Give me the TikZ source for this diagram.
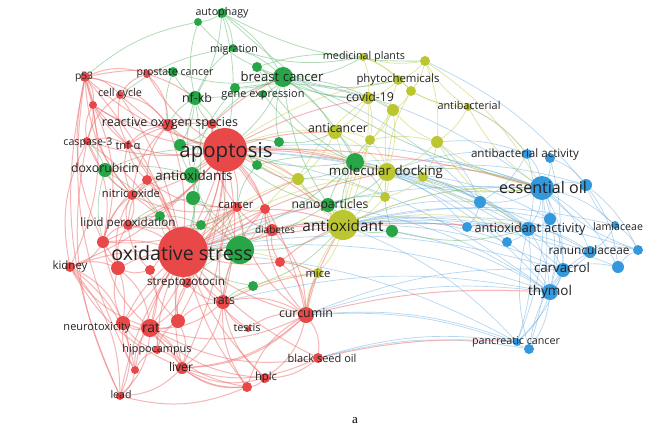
\documentclass[tikz,border=0pt]{standalone}
\usepackage{fontspec}
\setmainfont{Open Sans}
\newfontfamily\capfont{Liberation Serif}
\usepackage{graphicx}
\pgfdeclarelayer{edges}
\pgfsetlayers{edges,main}
\definecolor{cR}{RGB}{232,72,72}
\definecolor{cG}{RGB}{40,165,70}
\definecolor{cY}{RGB}{188,198,48}
\definecolor{cB}{RGB}{52,152,220}
\definecolor{eR}{RGB}{238,110,110}
\definecolor{eG}{RGB}{100,185,115}
\definecolor{eY}{RGB}{200,208,90}
\definecolor{eB}{RGB}{110,175,225}
\definecolor{txt}{RGB}{35,35,35}
\tikzset{
  kw/.style={circle, inner sep=0pt, minimum size=#1},
  nR/.style={kw=#1, fill=cR},
  nG/.style={kw=#1, fill=cG},
  nY/.style={kw=#1, fill=cY},
  nB/.style={kw=#1, fill=cB},
  lab/.style={inner sep=0pt, text=txt},
  eRs/.style={draw=eR, opacity=.5, line width=1pt},
  eGs/.style={draw=eG, opacity=.5, line width=.8pt},
  eYs/.style={draw=eY, opacity=.55, line width=.75pt},
  eBs/.style={draw=eB, opacity=.5, line width=.7pt},
}
\newcommand\lbl[4]{\node[lab] (#1) at (#2) {\resizebox{#3pt}{!}{#4}};}
\begin{document}
\begin{tikzpicture}[x=1pt,y=-1pt]
\useasboundingbox (0,0) rectangle (670,440);
% red nodes
\node[nR=44pt] (r1) at (225,150) {};
\node[nR=50pt] (r2) at (183,252) {};
\node[nR=10pt] (r3) at (85,77) {};
\node[nR=8pt] (r4) at (147,74) {};
\node[nR=8pt] (r5) at (120,95) {};
\node[nR=8pt] (r6) at (93,105) {};
\node[nR=12pt] (r7) at (168,125) {};
\node[nR=10pt] (r8) at (212,124) {};
\node[nR=8pt] (r9) at (87,141) {};
\node[nR=8pt] (r10) at (128,145) {};
\node[nR=10pt] (r11) at (147,180) {};
\node[nR=10pt] (r12) at (132,195) {};
\node[nR=10pt] (r13) at (237,207) {};
\node[nR=10pt] (r14) at (265,209) {};
\node[nR=10pt] (r15) at (128,225) {};
\node[nR=12pt] (r16) at (103,242) {};
\node[nR=10pt] (r17) at (70,267) {};
\node[nR=14pt] (r18) at (118,268) {};
\node[nR=10pt] (r19) at (150,270) {};
\node[nR=10pt] (r20) at (187,283) {};
\node[nR=14pt] (r21) at (223,302) {};
\node[nR=14pt] (r22) at (123,323) {};
\node[nR=18pt] (r23) at (150,328) {};
\node[nR=14pt] (r24) at (178,321) {};
\node[nR=8pt] (r25) at (157,350) {};
\node[nR=8pt] (r26) at (135,370) {};
\node[nR=12pt] (r27) at (182,368) {};
\node[nR=8pt] (r28) at (120,396) {};
\node[nR=10pt] (r29) at (247,387) {};
\node[nR=10pt] (r30) at (265,378) {};
\node[nR=12pt] (r31) at (272,230) {};
\node[nR=10pt] (r32) at (280,262) {};
\node[nR=16pt] (r33) at (306,315) {};
\node[nR=10pt] (r34) at (318,358) {};
\node[nR=6pt] (r35) at (248,329) {};
% green nodes
\node[nG=10pt] (g1) at (222,13) {};
\node[nG=8pt] (g2) at (198,22) {};
\node[nG=8pt] (g3) at (233,48) {};
\node[nG=10pt] (g4) at (257,67) {};
\node[nG=10pt] (g5) at (173,72) {};
\node[nG=20pt] (g6) at (283,77) {};
\node[nG=10pt] (g7) at (235,88) {};
\node[nG=14pt] (g8) at (195,98) {};
\node[nG=8pt] (g9) at (263,94) {};
\node[nG=12pt] (g10) at (180,145) {};
\node[nG=10pt] (g11) at (279,142) {};
\node[nG=10pt] (g12) at (257,165) {};
\node[nG=14pt] (g13) at (105,170) {};
\node[nG=16pt] (g14) at (192,175) {};
\node[nG=14pt] (g15) at (193,198) {};
\node[nG=10pt] (g16) at (160,216) {};
\node[nG=10pt] (g17) at (201,225) {};
\node[nG=28pt] (g18) at (240,250) {};
\node[nG=10pt] (g19) at (253,286) {};
\node[nG=18pt] (g20) at (355,162) {};
\node[nG=14pt] (g21) at (328,205) {};
\node[nG=12pt] (g22) at (392,231) {};
% yellow nodes
\node[nY=8pt] (y1) at (363,57) {};
\node[nY=10pt] (y2) at (425,61) {};
\node[nY=10pt] (y3) at (398,80) {};
\node[nY=10pt] (y4) at (411,91) {};
\node[nY=12pt] (y5) at (368,98) {};
\node[nY=12pt] (y6) at (393,110) {};
\node[nY=8pt] (y7) at (468,107) {};
\node[nY=14pt] (y8) at (335,132) {};
\node[nY=10pt] (y9) at (370,140) {};
\node[nY=12pt] (y10) at (437,142) {};
\node[nY=18pt] (y11) at (387,172) {};
\node[nY=12pt] (y12) at (298,179) {};
\node[nY=10pt] (y13) at (423,177) {};
\node[nY=10pt] (y14) at (385,197) {};
\node[nY=30pt] (y15) at (343,225) {};
\node[nY=10pt] (y16) at (318,273) {};
% blue nodes
\node[nB=10pt] (b1) at (527,154) {};
\node[nB=10pt] (b2) at (550,158) {};
\node[nB=24pt] (b3) at (542,188) {};
\node[nB=12pt] (b4) at (586,185) {};
\node[nB=12pt] (b5) at (480,202) {};
\node[nB=12pt] (b6) at (550,219) {};
\node[nB=10pt] (b7) at (467,227) {};
\node[nB=14pt] (b8) at (528,229) {};
\node[nB=8pt] (b9) at (615,225) {};
\node[nB=10pt] (b10) at (507,242) {};
\node[nB=12pt] (b11) at (590,252) {};
\node[nB=10pt] (b12) at (638,250) {};
\node[nB=14pt] (b13) at (563,270) {};
\node[nB=12pt] (b14) at (618,267) {};
\node[nB=16pt] (b15) at (550,292) {};
\node[nB=8pt] (b16) at (517,342) {};
\node[nB=10pt] (b17) at (529,349) {};
% edges
\begin{pgfonlayer}{edges}
\fill[white] (0,0) rectangle (670,440);
\foreach \a/\b in {b3/y15,b8/r1,b15/r2,b16/r34,b16/y15,b15/r33,b3/r1,b12/b4,b3/b12,b16/b3,b15/y15,b13/y15,b8/y11,b3/y11,b5/y11,b7/y15,b1/y11,b3/g20,b8/r2,b13/r2,b3/r2,b15/r1,b10/y15,b6/y15,b11/r1,b17/r33,b16/r2,b1/y10,b5/y10,b5/y15,b7/y11,b10/y11,b6/y11,b4/y11,b13/y11,b15/y11,b15/g21,b8/g20,b3/g6,b5/g6,b1/y7,b9/y15,b11/y15,b14/y15,b15/r21,b16/r33,b17/r34,b13/r33,b8/y13,b4/y2,b12/y15,b16/b8,b17/b3,b16/b13}
  \draw[eBs] (\a) to[bend right=12] (\b);
\foreach \a/\b in {b1/b3,b2/b3,b3/b4,b3/b5,b3/b6,b3/b8,b3/b13,b3/b15,b3/b11,b3/b9,b5/b8,b7/b8,b8/b10,b8/b13,b8/b15,b9/b12,b9/b11,b11/b12,b11/b13,b13/b14,b13/b15,b14/b12,b15/b16,b15/b17,b17/b13,b4/b14,b1/b8,b2/b15,b6/b8,b3/b14,b8/b11,b15/b11,b17/b8,b5/b7,b1/b5,b2/b4,b6/b13,b10/b15,b9/b4}
  \draw[eBs] (\a) to[bend left=14] (\b);
\foreach \a/\b in {y1/y3,y1/y5,y2/y3,y3/y5,y3/y4,y5/y6,y5/y8,y6/y11,y7/y10,y7/b1,y8/y11,y9/y11,y10/y11,y11/y15,y11/y13,y14/y15,y15/y16,y15/y12,y2/b3,y11/b3,y15/b3,y15/b8,y5/y15,y8/y15,y2/y4,y2/y10,y4/y6,y6/y9,y9/y10,y10/y13,y12/y14,y13/y14,y8/y9,y8/y12,y1/y4,y7/y4,y5/y9}
  \draw[eYs] (\a) to[bend left=12] (\b);
\foreach \a/\b in {y4/y11,y6/y15,y3/y11,y7/b3,y10/b3,y13/b5,y1/y2,y5/y12,y16/r2,y16/r33,y15/r1,y8/r1,y11/r1,y11/r2,y12/r1,y12/r2,y15/r31,y3/r1,y2/y7,y4/y7,y9/y15,y14/y11,y10/b8,y13/b3,y6/y10,y16/r21,y15/r33,y12/r14}
  \draw[eYs] (\a) to[bend right=12] (\b);
\foreach \a/\b in {g1/g2,g1/g3,g1/g6,g1/g8,g1/r1,g3/g6,g6/g4,g6/g7,g6/g9,g6/g8,g8/g5,g8/g10,g6/g20,g6/y8,g20/y11,g21/y15,g21/g20,g18/g14,g13/g14,g14/g15,g16/g17,g22/y15,g19/r2,g11/g6,g12/g20,g6/r1,g8/r1,g8/r2,g10/r1,g13/r2,g13/r1,g14/r2,g14/r1,g15/r2,g18/r1,g18/r2,g20/r1,g20/r2,g21/r1,g21/r2,g15/g18,g17/g18,g14/g10,g20/y9,g20/y14,g20/y12,g21/y12,g21/y14,g22/y11,g6/y6,g4/y1,g7/y5}
  \draw[eGs] (\a) to[bend left=12] (\b);
\foreach \a/\b in {g6/y15,g6/y5,g2/g8,g3/g8,g4/g20,g7/g14,g9/g20,g5/g6,g1/y2,g1/b3,g3/y1,g6/y1,g6/y3,g8/g14,g20/y15,g20/b3,g22/b8,g17/r2,g16/r2,g12/r1,g11/r1,g20/y8,g21/y11,g19/y15,g18/y15,g2/g6,g4/y5,g10/r7,g10/r8,g13/r9,g13/r12,g13/r16,g14/r11,g14/r12,g15/r15,g15/r13,g16/r15,g17/r13,g18/r13,g18/r14,g18/r21,g18/r20,g19/r21,g8/r7,g8/r8,g5/r4,g5/r7,g6/r8,g12/r13,g11/y8,g12/y12,g2/r3,g3/r5}
  \draw[eGs] (\a) to[bend right=14] (\b);
\foreach \a/\b in {r1/r2,r1/r3,r1/r5,r1/r7,r1/r8,r1/r9,r1/r10,r1/r11,r1/r12,r1/r13,r1/r14,r1/r21,r1/r23,r1/r33,r1/r31,r1/r20,r1/r4,r1/r6,r1/r15,r1/r16,r1/r17,r1/r22,r1/r27,r1/r24}
  \draw[eRs] (\a) to[bend left=12] (\b);
\foreach \a/\b in {r2/r3,r2/r6,r2/r7,r2/r9,r2/r12,r2/r15,r2/r16,r2/r17,r2/r18,r2/r19,r2/r20,r2/r21,r2/r22,r2/r23,r2/r24,r2/r25,r2/r26,r2/r27,r2/r28,r2/r29,r2/r30,r2/r31,r2/r32,r2/r33,r2/r34,r2/r13,r2/r14,r2/r10,r2/r5,r2/r11,r2/r35}
  \draw[eRs] (\a) to[bend right=10] (\b);
\foreach \a/\b in {r23/r22,r23/r25,r23/r27,r23/r28,r22/r28,r27/r28,r17/r18,r17/r28,r3/r5,r3/r6,r5/r7,r9/r10,r15/r12,r16/r17,r21/r23,r24/r27,r33/r34,r33/r30,r30/r27,r29/r27,r26/r23,r17/r22,r3/r9,r3/r17,r6/r16,r21/r33,r33/r23,r33/r27,r29/r23,r34/r27,r18/r23,r24/r23,r19/r23,r20/r23,r12/r15,r11/r12,r7/r8,r4/r7,r3/r7,r22/r27,r25/r27,r26/r28,r21/r27,r33/r14,r33/r13,r31/r33,r32/r33,r16/r22,r9/r16,r17/r26,r35/r33,r35/r21,r3/r4,r29/r33}
  \draw[eRs] (\a) to[bend left=20] (\b);
\foreach \a/\b in {r3/r10,r3/r12,r3/r16,r5/r9,r5/r10,r6/r9,r6/r12,r7/r10,r7/r11,r7/r12,r8/r13,r9/r17,r9/r12,r10/r11,r10/r12,r11/r15,r11/r16,r12/r16,r12/r18,r13/r14,r13/r21,r13/r31,r14/r31,r15/r16,r15/r18,r15/r19,r16/r18,r16/r23,r17/r23,r17/r27,r18/r22,r18/r19,r19/r24,r20/r21,r20/r24,r21/r24,r21/r29,r21/r30,r22/r25,r22/r26,r23/r30,r23/r34,r24/r25,r25/r26,r27/r29,r27/r33,r28/r29,r29/r30,r30/r34,r31/r32,r14/r21,r13/r20,r8/r10,r4/r5,r6/r7,r3/r28,r9/r28,r3/r26,r11/r13,r12/r13,r15/r13,r16/r13}
  \draw[eRs] (\a) to[bend right=18] (\b);
\foreach \a/\b in {r1/y15,r1/y11,r1/y8,r1/g20,r2/y15,r2/y11,r33/y15,r33/y16,r1/b3,r2/b8,r33/b15,r34/b16,r21/y16,r1/y5,r1/y12,r2/y12,r2/g21,r3/g5,r4/g8,r8/g6,r14/y15,r31/y15,r32/y15,r32/y16}
  \draw[eRs] (\a) to[bend left=8] (\b);
\end{pgfonlayer}
% labels
\lbl{la1}{222,13}{53}{autophagy}
\lbl{la2}{234,50}{48}{migration}
\lbl{la3}{84,77}{18}{p53}
\lbl{la4}{175,73}{77}{prostate cancer}
\lbl{la5}{120,94}{44}{cell cycle}
\lbl{la6}{197,98}{30}{nf-kb}
\lbl{la7}{263,95}{83}{gene expression}
\lbl{la8}{282,77}{83}{breast cancer}
\lbl{la9}{364,57}{82}{medicinal plants}
\lbl{la10}{398,80}{83}{phytochemicals}
\lbl{la11}{370,97}{48}{covid-19}
\lbl{la12}{469,105}{63}{antibacterial}
\lbl{la13}{170,123}{136}{reactive oxygen species}
\lbl{la14}{338,128}{60}{anticancer}
\lbl{la15}{88,143}{49}{caspase-3}
\lbl{la16}{128,145}{25}{tnf-α}
\lbl{la17}{226,152}{93}{apoptosis}
\lbl{la18}{105,168}{68}{doxorubicin}
\lbl{la19}{194,175}{77}{antioxidants}
\lbl{la20}{386,172}{114}{molecular docking}
\lbl{la21}{525,154}{108}{antibacterial activity}
\lbl{la22}{543,187}{88}{essential oil}
\lbl{la23}{131,193}{58}{nitric oxide}
\lbl{la24}{236,205}{35}{cancer}
\lbl{la25}{330,205}{77}{nanoparticles}
\lbl{la26}{128,223}{95}{lipid peroxidation}
\lbl{la27}{275,230}{40}{diabetes}
\lbl{la28}{343,226}{81}{antioxidant}
\lbl{la29}{530,229}{111}{antioxidant activity}
\lbl{la30}{618,227}{50}{lamiaceae}
\lbl{la31}{589,250}{81}{ranunculaceae}
\lbl{la32}{182,253}{141}{oxidative stress}
\lbl{la33}{70,267}{35}{kidney}
\lbl{la34}{562,268}{56}{carvacrol}
\lbl{la35}{318,273}{25}{mice}
\lbl{la36}{186,283}{78}{streptozotocin}
\lbl{la37}{550,292}{44}{thymol}
\lbl{la38}{224,300}{22}{rats}
\lbl{la39}{97,328}{67}{neurotoxicity}
\lbl{la40}{151,328}{18}{rat}
\lbl{la41}{247,328}{27}{testis}
\lbl{la42}{306,313}{54}{curcumin}
\lbl{la43}{157,350}{69}{hippocampus}
\lbl{la44}{516,342}{88}{pancreatic cancer}
\lbl{la45}{322,358}{69}{black seed oil}
\lbl{la46}{181,367}{24}{liver}
\lbl{la47}{266,378}{22}{hplc}
\lbl{la48}{121,395}{21}{lead}
\node[inner sep=0pt, text=black, font=\capfont\fontsize{13}{15}\selectfont] (cap) at (355,421) {a};
\end{tikzpicture}
\end{document}
